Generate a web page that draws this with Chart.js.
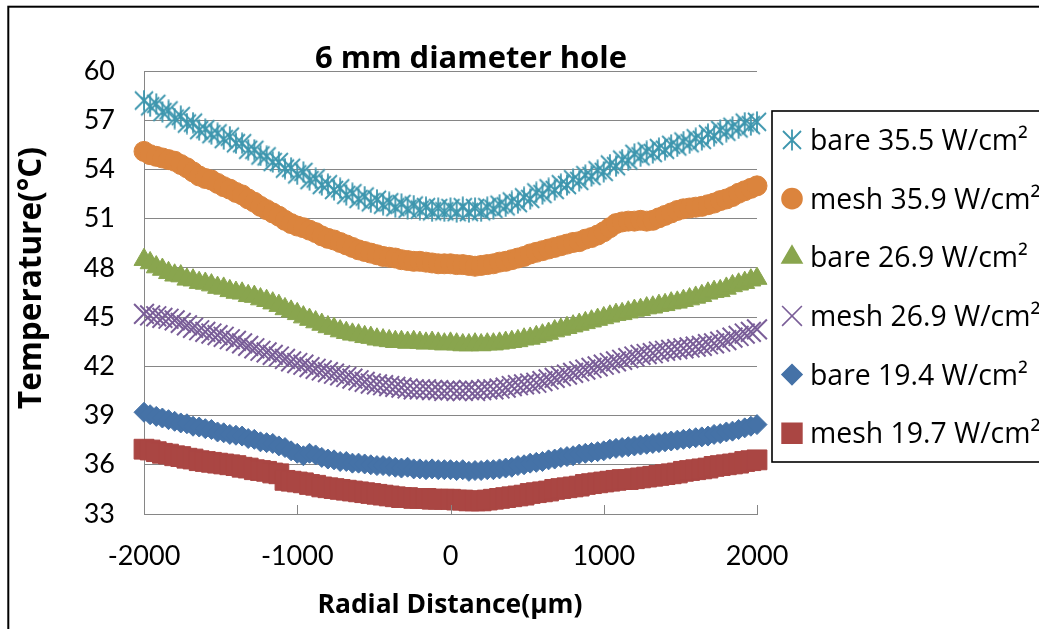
<!DOCTYPE html>
<html>
<head>
<meta charset="utf-8">
<script src="https://cdn.jsdelivr.net/npm/chart.js@4.4.1/dist/chart.umd.min.js"></script>
<style>
  html, body { margin: 0; padding: 0; background: #fff; overflow: hidden; }
  canvas { display: block; }
</style>
</head>
<body>
<canvas id="c" width="1039" height="629"></canvas>
<script>
// Radial positions (µm) of the surface temperature readings
const radial = [
  -2000,-1960,-1920,-1880,-1840,-1800,-1760,-1720,-1680,-1640,
  -1600,-1560,-1520,-1480,-1440,-1400,-1360,-1320,-1280,-1240,
  -1200,-1160,-1120,-1080,-1040,-1000,-960,-920,-880,-840,
  -800,-760,-720,-680,-640,-600,-560,-520,-480,-440,
  -400,-360,-320,-280,-240,-200,-160,-120,-80,-40,
  0,40,80,120,160,200,240,280,320,360,
  400,440,480,520,560,600,640,680,720,760,
  800,840,880,920,960,1000,1040,1080,1120,1160,
  1200,1240,1280,1320,1360,1400,1440,1480,1520,1560,
  1600,1640,1680,1720,1760,1800,1840,1880,1920,1960,
  2000
];

// Temperatures (°C) per heat flux case
const bare355 = [
  58.2,57.85,58.0,57.5,57.6,57.1,57.25,56.8,56.85,56.4,
  56.45,56.15,56.2,55.85,56.0,55.6,55.6,55.2,55.2,54.85,
  54.8,54.45,54.45,54.05,54.1,53.7,53.85,53.35,53.45,53.05,
  53.1,52.75,52.85,52.45,52.55,52.2,52.35,52.0,52.15,51.85,
  52.0,51.7,51.9,51.6,51.8,51.55,51.7,51.45,51.65,51.45,
  51.65,51.4,51.7,51.4,51.65,51.45,51.7,51.6,51.85,51.75,
  52.05,51.95,52.3,52.2,52.6,52.5,52.85,52.75,53.1,53.05,
  53.4,53.3,53.65,53.6,53.95,53.85,54.3,54.2,54.6,54.55,
  54.95,54.8,55.1,55.0,55.3,55.2,55.5,55.4,55.7,55.6,
  55.9,55.8,56.15,56.05,56.4,56.3,56.6,56.5,56.85,56.7,
  56.9
];
const mesh359 = [
  55.1,54.9,54.8,54.7,54.6,54.5,54.3,54.1,53.85,53.6,
  53.45,53.35,53.15,52.95,52.8,52.6,52.45,52.2,52.0,51.75,
  51.55,51.35,51.15,50.9,50.7,50.55,50.45,50.3,50.15,49.95,
  49.8,49.7,49.55,49.4,49.25,49.1,49.0,48.9,48.8,48.7,
  48.65,48.6,48.5,48.45,48.4,48.4,48.35,48.3,48.25,48.25,
  48.25,48.2,48.2,48.15,48.1,48.15,48.2,48.25,48.35,48.4,
  48.5,48.6,48.7,48.85,48.95,49.05,49.15,49.25,49.35,49.45,
  49.55,49.6,49.75,49.85,50.0,50.2,50.45,50.7,50.8,50.85,
  50.85,50.9,50.85,50.9,51.05,51.2,51.35,51.5,51.6,51.65,
  51.7,51.75,51.85,51.95,52.1,52.2,52.35,52.55,52.7,52.85,
  53.0
];
const bare269 = [
  48.5,48.3,48.05,47.9,47.7,47.55,47.5,47.3,47.25,47.1,
  47.05,46.95,46.8,46.75,46.6,46.5,46.45,46.3,46.25,46.1,
  46.0,45.85,45.7,45.5,45.35,45.2,45.0,44.85,44.7,44.55,
  44.4,44.3,44.15,44.05,43.95,43.9,43.8,43.75,43.65,43.6,
  43.55,43.5,43.5,43.45,43.5,43.45,43.4,43.45,43.4,43.35,
  43.4,43.35,43.3,43.3,43.35,43.3,43.35,43.35,43.4,43.45,
  43.5,43.55,43.65,43.7,43.8,43.9,44.0,44.15,44.25,44.35,
  44.45,44.55,44.65,44.75,44.85,44.95,45.05,45.15,45.2,45.3,
  45.4,45.45,45.55,45.6,45.7,45.75,45.85,45.9,46.0,46.1,
  46.2,46.3,46.45,46.55,46.6,46.75,46.9,47.0,47.1,47.25,
  47.35
];
const mesh269 = [
  45.2,45.1,45.05,44.95,44.9,44.8,44.65,44.5,44.35,44.2,
  44.1,44.0,43.9,43.8,43.65,43.55,43.4,43.25,43.1,42.95,
  42.85,42.7,42.6,42.45,42.3,42.2,42.1,41.95,41.85,41.75,
  41.65,41.55,41.45,41.35,41.25,41.15,41.05,40.95,40.9,40.85,
  40.8,40.75,40.7,40.65,40.6,40.6,40.6,40.55,40.55,40.5,
  40.55,40.5,40.5,40.55,40.5,40.55,40.6,40.6,40.65,40.7,
  40.8,40.85,40.9,40.95,41.0,41.1,41.2,41.3,41.4,41.5,
  41.6,41.7,41.8,41.9,42.0,42.1,42.2,42.3,42.4,42.5,
  42.6,42.7,42.75,42.8,42.9,42.95,43.0,43.05,43.1,43.15,
  43.2,43.25,43.35,43.4,43.5,43.6,43.75,43.85,44.0,44.1,
  44.25
];
const bare194 = [
  39.2,39.05,38.95,38.85,38.75,38.65,38.55,38.5,38.35,38.3,
  38.2,38.15,38.0,37.95,37.85,37.8,37.75,37.6,37.55,37.4,
  37.35,37.3,37.15,37.05,36.85,36.7,36.55,36.7,36.6,36.45,
  36.35,36.3,36.2,36.2,36.1,36.1,36.05,36.0,35.95,35.95,
  35.9,35.85,35.8,35.85,35.75,35.75,35.7,35.75,35.7,35.7,
  35.7,35.65,35.7,35.6,35.65,35.65,35.7,35.7,35.75,35.8,
  35.85,35.95,36.0,36.1,36.15,36.2,36.3,36.35,36.45,36.5,
  36.55,36.65,36.7,36.75,36.8,36.85,36.95,37.0,37.05,37.1,
  37.15,37.2,37.25,37.3,37.35,37.4,37.45,37.5,37.55,37.6,
  37.65,37.7,37.75,37.85,37.9,38.0,38.05,38.15,38.25,38.35,
  38.45
];
const mesh197 = [
  36.95,36.9,36.8,36.7,36.65,36.55,36.5,36.4,36.35,36.25,
  36.2,36.15,36.1,36.05,36.0,35.95,35.85,35.8,35.7,35.65,
  35.6,35.5,35.45,35.05,35.0,34.95,34.9,34.8,34.75,34.65,
  34.6,34.55,34.5,34.45,34.4,34.35,34.3,34.25,34.2,34.15,
  34.1,34.05,34.0,34.0,33.95,33.95,33.95,33.9,33.9,33.9,
  33.9,33.85,33.85,33.8,33.8,33.8,33.85,33.9,33.95,34.0,
  34.05,34.1,34.15,34.25,34.3,34.35,34.4,34.5,34.55,34.6,
  34.65,34.7,34.8,34.85,34.9,34.95,35.0,35.05,35.1,35.1,
  35.15,35.2,35.25,35.3,35.35,35.4,35.45,35.5,35.6,35.65,
  35.7,35.75,35.8,35.9,35.95,36.0,36.05,36.1,36.2,36.25,
  36.3
];

const seriesLabels = ['bare 35.5 W/cm²', 'mesh 35.9 W/cm²', 'bare 26.9 W/cm²',
                      'mesh 26.9 W/cm²', 'bare 19.4 W/cm²', 'mesh 19.7 W/cm²'];
const xTicks = [-2000, -1000, 0, 1000, 2000];
const yTicks = [33, 36, 39, 42, 45, 48, 51, 54, 57, 60];
const chartTitle = '6 mm diameter hole';
const xTitle = 'Radial Distance(µm)';
const yTitle = 'Temperature(°C)';

const TICK_FONT = 'Lato, "Open Sans", sans-serif';
const TEXT_FONT = '"Open Sans", Lato, sans-serif';
const GRID = '#868686';

// Six-armed star marker (an X with a vertical bar)
function makeStar(color) {
  const c = document.createElement('canvas');
  c.width = 22; c.height = 22;
  const g = c.getContext('2d');
  g.strokeStyle = color; g.lineWidth = 1.8; g.lineCap = 'butt';
  g.beginPath();
  g.moveTo(2, 2); g.lineTo(20, 20);
  g.moveTo(20, 2); g.lineTo(2, 20);
  g.moveTo(11, 0.5); g.lineTo(11, 21.5);
  g.stroke();
  return c;
}

const styles = [
  { color: '#3D96AE', pointStyle: makeStar('#3D96AE'), radius: 10, borderWidth: 0, order: 2 },
  { color: '#DB843D', pointStyle: 'circle',   radius: 10,  borderWidth: 1, order: 1 },
  { color: '#89A54E', pointStyle: 'triangle', radius: 11.5, borderWidth: 1, order: 4 },
  { color: '#7A5E98', pointStyle: 'crossRot', radius: 14,  borderWidth: 2, order: 3 },
  { color: '#4572A7', pointStyle: 'rectRot',  radius: 10,  borderWidth: 1, order: 6 },
  { color: '#AA4643', pointStyle: 'rect',     radius: 14,  borderWidth: 1, order: 5 }
];
const seriesValues = [bare355, mesh359, bare269, mesh269, bare194, mesh197];

const datasets = seriesValues.map((vals, i) => ({
  label: seriesLabels[i],
  data: vals.map((v, k) => ({ x: radial[k], y: v })),
  showLine: false,
  pointStyle: styles[i].pointStyle,
  pointRadius: styles[i].radius,
  pointBorderWidth: styles[i].borderWidth,
  pointBackgroundColor: styles[i].color,
  pointBorderColor: styles[i].color,
  backgroundColor: styles[i].color,
  borderColor: styles[i].color,
  order: styles[i].order,
  clip: false
}));

// font size that makes a string span a given width
function fitSize(ctx, text, weight, family, width) {
  ctx.font = weight + ' 100px ' + family;
  return 100 * width / ctx.measureText(text).width;
}

// Frame, titles, inside x ticks and the boxed legend
const decorations = {
  id: 'decorations',
  afterDraw(chart) {
    const ctx = chart.ctx;
    const xs = chart.scales.x;
    ctx.save();

    // outer chart border
    ctx.strokeStyle = '#000';
    ctx.lineWidth = 2;
    ctx.strokeRect(8.3, 6.7, 1300, 1300);

    // tick marks pointing into the plot area
    ctx.strokeStyle = GRID;
    ctx.lineWidth = 1;
    xTicks.forEach(t => {
      const px = Math.round(xs.getPixelForValue(t)) + 0.5;
      ctx.beginPath();
      ctx.moveTo(px, xs.top);
      ctx.lineTo(px, xs.top - 9);
      ctx.stroke();
    });

    ctx.fillStyle = '#000';
    ctx.textAlign = 'center';
    ctx.textBaseline = 'alphabetic';

    // chart title
    let s = fitSize(ctx, chartTitle, 'bold', TEXT_FONT, 312);
    ctx.font = 'bold ' + s + 'px ' + TEXT_FONT;
    ctx.fillText(chartTitle, 471, 68);

    // x axis title
    s = fitSize(ctx, xTitle, 'bold', TEXT_FONT, 265);
    ctx.font = 'bold ' + s + 'px ' + TEXT_FONT;
    ctx.fillText(xTitle, 450, 613);

    // y axis title
    s = fitSize(ctx, yTitle, 'bold', TEXT_FONT, 262);
    ctx.font = 'bold ' + s + 'px ' + TEXT_FONT;
    ctx.save();
    ctx.translate(41, 278);
    ctx.rotate(-Math.PI / 2);
    ctx.fillText(yTitle, 0, 0);
    ctx.restore();

    // legend box
    ctx.strokeStyle = '#000';
    ctx.lineWidth = 1.6;
    ctx.strokeRect(772, 111, 400, 351);
    s = fitSize(ctx, seriesLabels[0], 'normal', TEXT_FONT, 218);
    ctx.font = 'normal ' + s + 'px ' + TEXT_FONT;
    ctx.textAlign = 'left';
    chart.data.datasets.forEach((ds, i) => {
      const cy = 140 + 58.65 * i;
      const st = styles[i];
      ctx.fillStyle = st.color;
      ctx.strokeStyle = st.color;
      Chart.helpers.drawPoint(ctx, {
        pointStyle: st.pointStyle, radius: st.radius, rotation: 0, borderWidth: st.borderWidth
      }, 792, cy);
      ctx.fillStyle = '#000';
      ctx.fillText(ds.label, 810, cy + 10);
    });
    ctx.restore();
  }
};

function draw() {
  new Chart(document.getElementById('c'), {
    type: 'scatter',
    data: { datasets },
    options: {
      responsive: false,
      animation: false,
      events: [],
      layout: { padding: { left: 0, top: 71, right: 282, bottom: 0 } },
      plugins: { legend: { display: false }, title: { display: false }, tooltip: { enabled: false } },
      scales: {
        x: {
          type: 'linear', min: -2000, max: 2000,
          afterFit(s) { s.height = 115; },
          afterBuildTicks(s) { s.ticks = xTicks.map(v => ({ value: v })); },
          ticks: { color: '#000', font: { family: TICK_FONT, size: 27 }, padding: 26, maxRotation: 0,
                   autoSkip: false, callback: v => String(v) },
          grid: { display: false, drawTicks: false },
          border: { display: true, color: GRID, width: 1 }
        },
        y: {
          min: 33, max: 60,
          afterFit(s) { s.width = 144; },
          afterBuildTicks(s) { s.ticks = yTicks.map(v => ({ value: v })); },
          ticks: { color: '#000', font: { family: TICK_FONT, size: 27 }, padding: 29,
                   autoSkip: false, callback: v => String(v) },
          grid: { color: GRID, lineWidth: 1, drawTicks: false },
          border: { display: true, color: GRID, width: 1 }
        }
      }
    },
    plugins: [decorations]
  });
}

const fontLoads = ['27px Lato', '27px "Open Sans"', 'bold 27px "Open Sans"'].map(f => document.fonts.load(f));
Promise.all(fontLoads).then(draw, draw);
</script>
</body>
</html>
